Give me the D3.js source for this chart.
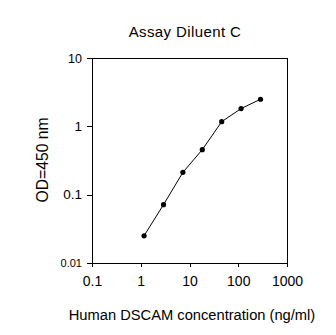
<!DOCTYPE html>
<html><head><meta charset="utf-8">
<script src="https://cdn.jsdelivr.net/npm/d3@7"></script>
<style>body{margin:0;background:#fff}svg{display:block}text{font-family:Arial,"Liberation Sans",sans-serif;fill:#000}</style>
</head><body>
<script>
const concentration = [1.17, 2.93, 7.32, 18.3, 45.8, 114.4, 286];
const od = [0.025, 0.0714, 0.212, 0.456, 1.17, 1.82, 2.49];
const xTicks = [0.1, 1, 10, 100, 1000];
const yTicks = [0.01, 0.1, 1, 10];
const xTickLabels = ["0.1", "1", "10", "100", "1000"];
const yTickLabels = ["0.01", "0.1", "1", "10"];
const yTickSizes = [11, 13.5, 13.5, 12.5];
const title = "Assay Diluent C";
const xTitle = "Human DSCAM concentration (ng/ml)";
const yTitle = "OD=450 nm";

const W = 336, H = 335;
const m = {left: 92, right: 287, top: 58, bottom: 263};
const svg = d3.select("body").append("svg").attr("width", W).attr("height", H);
const x = d3.scaleLog().domain([0.1, 1000]).range([m.left, m.right]);
const y = d3.scaleLog().domain([0.01, 10]).range([m.bottom, m.top]);

// frame
svg.append("rect").attr("x", m.left).attr("y", m.top).attr("width", m.right - m.left).attr("height", m.bottom - m.top)
  .attr("fill", "none").attr("stroke", "#000").attr("stroke-width", 1).attr("shape-rendering", "crispEdges");

const xAxis = svg.append("g").attr("transform", `translate(0,${m.bottom})`)
  .call(d3.axisBottom(x).tickValues(xTicks).tickSize(4).tickFormat((d, i) => xTickLabels[i]));
const yAxis = svg.append("g").attr("transform", `translate(${m.left},0)`)
  .call(d3.axisLeft(y).tickValues(yTicks).tickSize(5).tickFormat((d, i) => yTickLabels[i]));
[xAxis, yAxis].forEach(g => {
  g.select(".domain").attr("stroke", "#000").attr("shape-rendering", "crispEdges");
  g.selectAll(".tick line").attr("stroke", "#000").attr("shape-rendering", "crispEdges");
  g.selectAll("text").attr("font-family", "Arial, 'Liberation Sans', sans-serif").attr("fill", "#000");
});
xAxis.selectAll("text").attr("font-size", 14).attr("dy", "0.71em").attr("y", 13);
yAxis.selectAll("text").attr("font-size", (d, i) => yTickSizes[i]).attr("x", -10);

const line = d3.line().x((d, i) => x(concentration[i])).y(d => y(d));
svg.append("path").datum(od).attr("d", line).attr("fill", "none").attr("stroke", "#000").attr("stroke-width", 1);
svg.selectAll("circle.pt").data(od).enter().append("circle")
  .attr("cx", (d, i) => x(concentration[i])).attr("cy", d => y(d)).attr("r", 2.6).attr("fill", "#000");

svg.append("text").attr("x", 185).attr("y", 37).attr("text-anchor", "middle").attr("font-size", 15).attr("letter-spacing", 0.4).text(title);
svg.append("text").attr("x", 192).attr("y", 320).attr("text-anchor", "middle").attr("font-size", 14.7).text(xTitle);
svg.append("text").attr("transform", "translate(48,160) rotate(-90)").attr("text-anchor", "middle").attr("font-size", 15.7).text(yTitle);
</script>
</body></html>
